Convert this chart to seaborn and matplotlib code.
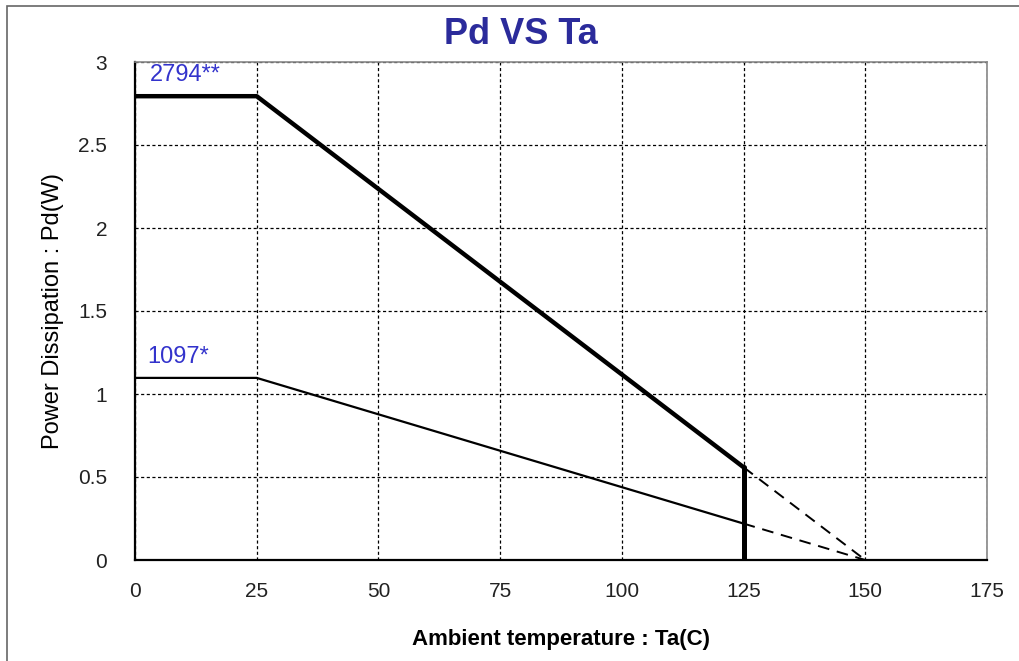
import matplotlib
matplotlib.use("Agg")
import matplotlib.pyplot as plt
import seaborn as sns
import pandas as pd
from matplotlib.patches import Rectangle

# Data
ta_solid = [0, 25, 125]
pd_high = [2.794, 2.794, 0.5588]
pd_low = [1.097, 1.097, 0.2194]
ta_dash = [125, 150]
pd_high_dash = [0.5588, 0.0]
pd_low_dash = [0.2194, 0.0]
ta_cut = [125, 125]
pd_cut = [0.5588, 0.0]
x_ticks = [0, 25, 50, 75, 100, 125, 150, 175]
y_ticks = [0, 0.5, 1, 1.5, 2, 2.5, 3]
y_tick_labels = ["0", "0.5", "1", "1.5", "2", "2.5", "3"]
labels = ["2794**", "1097*"]
label_pos = [(3, 2.92), (2.5, 1.22)]

sns.set_theme(style="white")
plt.rcParams['font.family'] = ['Liberation Sans', 'DejaVu Sans']

fig = plt.figure(figsize=(10.19, 6.61), dpi=100)
ax = fig.add_axes([135/1019, 1-560/661, (987-135)/1019, (560-62)/661])

# outer frame
fig.patches.append(Rectangle((7/1019, -0.1), 1.2, (1-6/661)+0.1, transform=fig.transFigure,
                             fill=False, edgecolor="#666666", linewidth=1.2, zorder=0))

df_hi = pd.DataFrame({"Ta": ta_solid, "Pd": pd_high})
df_lo = pd.DataFrame({"Ta": ta_solid, "Pd": pd_low})
sns.lineplot(data=df_hi, x="Ta", y="Pd", ax=ax, color="black", linewidth=3.2,
             sort=False, estimator=None)
sns.lineplot(data=df_lo, x="Ta", y="Pd", ax=ax, color="black", linewidth=1.6,
             sort=False, estimator=None)
sns.lineplot(x=ta_cut, y=pd_cut, ax=ax, color="black", linewidth=3.6,
             sort=False, estimator=None)
sns.lineplot(x=ta_dash, y=pd_high_dash, ax=ax, color="black", linewidth=1.4,
             linestyle=(0, (6, 4)), sort=False, estimator=None)
sns.lineplot(x=ta_dash, y=pd_low_dash, ax=ax, color="black", linewidth=1.4,
             linestyle=(0, (6, 4)), sort=False, estimator=None)

for txt, (x, y) in zip(labels, label_pos):
    ax.text(x, y, txt, color="#3333cc", fontsize=17, ha="left", va="center")

ax.set_xlim(0, 175)
ax.set_ylim(0, 3)
ax.set_xticks(x_ticks)
ax.set_yticks(y_ticks)
ax.set_yticklabels(y_tick_labels)
ax.tick_params(axis="both", length=0, labelsize=15, labelcolor="#222222")
ax.tick_params(axis="x", pad=16)
ax.tick_params(axis="y", pad=20)

ax.grid(True, color="black", linestyle=(0, (2.5, 2)), linewidth=0.9)
for s in ["top", "right"]:
    ax.spines[s].set_color("#888888")
    ax.spines[s].set_linewidth(1.2)
for s in ["left", "bottom"]:
    ax.spines[s].set_color("black")
    ax.spines[s].set_linewidth(1.6)

ax.set_xlabel("Ambient temperature : Ta(C)", fontsize=16, fontweight="bold", color="black", labelpad=20)
ax.set_ylabel("Power Dissipation : Pd(W)", fontsize=17, color="black", labelpad=10)

fig.text(521/1019, 1-34/661, "Pd VS Ta", fontsize=26, fontweight="bold", color="#2b2b9b",
         ha="center", va="center")

fig.savefig("out.png", dpi=100)
